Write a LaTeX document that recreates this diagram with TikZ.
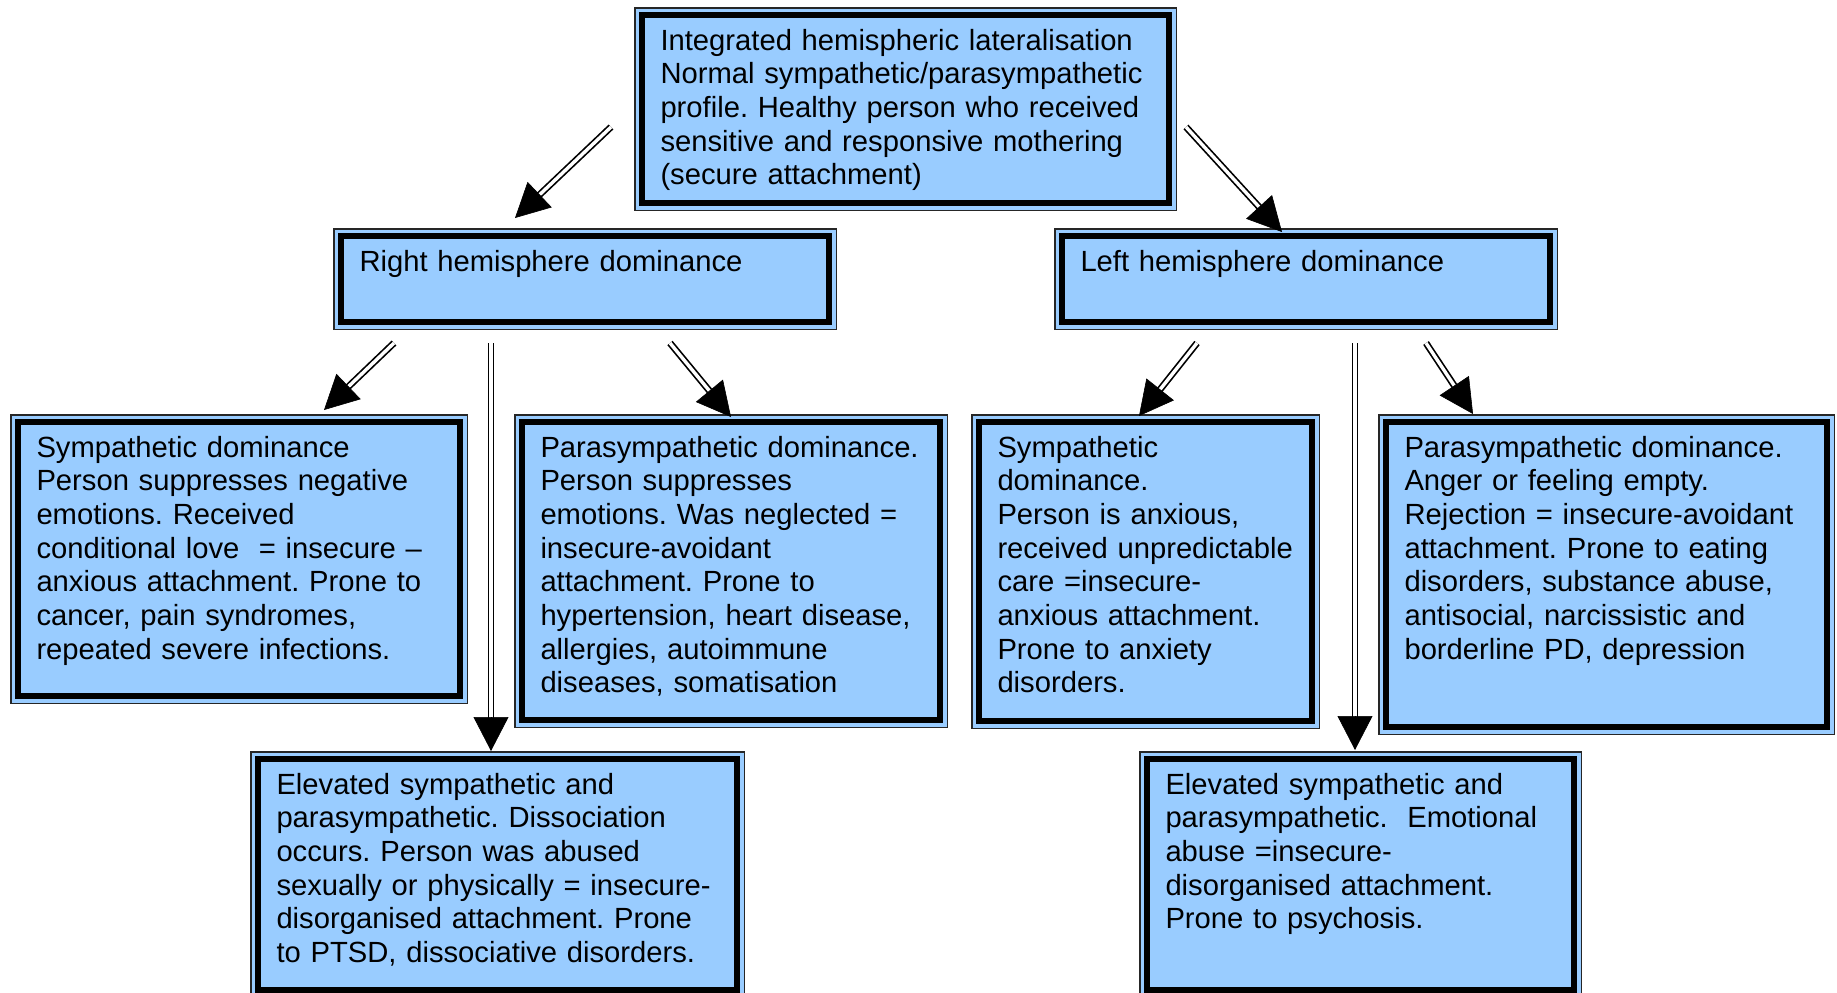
\documentclass[tikz,border=0pt]{standalone}
\usepackage{fontspec}
\setmainfont{Liberation Sans}
\usetikzlibrary{arrows.meta,calc}
\definecolor{boxblue}{RGB}{153,204,255}
\newcommand\darr[2]{%
  \draw[shaft] (#1) -- ($(#2)!30pt!(#1)$);
  \draw[ahead] ($(#2)!34pt!(#1)$) -- (#2);}
\frenchspacing
\begin{document}
\begin{tikzpicture}[x=1pt,y=-1pt,
  box/.style={draw=black, line width=6pt, fill=boxblue, outer sep=0pt,
    inner xsep=18.5pt, inner ysep=11.4pt, text height=23.6pt, align=left,
    anchor=north west, font=\frenchspacing\fontsize{29.2pt}{33.7pt}\selectfont,
    preaction={draw=black!85, line width=16pt},
    preaction={draw=boxblue, line width=13pt}},
  shaft/.style={draw=black, double=white, double distance=3.4pt, line width=1.7pt},
  ahead/.style={draw=black, line width=0.6pt, -{Triangle[length=34pt,width=35pt]}}]
\useasboundingbox (0,0) rectangle (1837,993);
\fill[white] (0,0) rectangle (1837,993);

\node[box, text width=490pt, text depth=141.6pt] (b1) at (642,15)
  {Integrated hemispheric lateralisation\\Normal sympathetic/parasympathetic\\profile. Healthy person who received\\sensitive and responsive mothering\\(secure attachment)};
\node[box, text width=451pt, text depth=39.6pt] (b2) at (341,236)
  {Right hemisphere dominance};
\node[box, text width=451pt, text depth=39.6pt] (b3) at (1062,236)
  {Left hemisphere dominance};
\node[box, text width=405pt, text depth=227.6pt] (b4) at (18,422)
  {Sympathetic dominance\\Person suppresses negative\\emotions. Received\\conditional love~ = insecure --\\anxious attachment. Prone to\\cancer, pain syndromes,\\repeated severe infections.};
\node[box, text width=381pt, text depth=251.6pt] (b5) at (522,422)
  {Parasympathetic dominance.\\Person suppresses\\emotions. Was neglected =\\insecure-avoidant\\attachment. Prone to\\hypertension, heart disease,\\allergies, autoimmune\\diseases, somatisation};
\node[box, text width=296pt, text depth=252.6pt] (b6) at (979,422)
  {Sympathetic\\dominance.\\Person is anxious,\\\mbox{received unpredictable}\\care =insecure-\\anxious attachment.\\Prone to anxiety\\disorders.};
\node[box, text width=404pt, text depth=258.6pt] (b7) at (1386,422)
  {Parasympathetic dominance.\\Anger or feeling empty.\\Rejection = insecure-avoidant\\attachment. Prone to eating\\disorders, substance abuse,\\antisocial, narcissistic and\\borderline PD, depression};
\node[box, text width=442pt, text depth=184.6pt] (b8) at (258,759)
  {Elevated sympathetic and\\parasympathetic. Dissociation\\occurs. Person was abused\\sexually or physically = insecure-\\disorganised attachment. Prone\\to PTSD, dissociative disorders.};
\node[box, text width=390pt, text depth=184.6pt] (b9) at (1147,759)
  {Elevated sympathetic and\\parasympathetic.~ Emotional\\abuse =insecure-\\disorganised attachment.\\Prone to psychosis.};

\coordinate (a1s) at (611,127);  \coordinate (a1e) at (515,218);
\coordinate (a2s) at (1186,127); \coordinate (a2e) at (1282,232);
\coordinate (a3s) at (394,343);  \coordinate (a3e) at (324,410);
\coordinate (a4s) at (491,343);  \coordinate (a4e) at (491,751);
\coordinate (a5s) at (670,343);  \coordinate (a5e) at (731,417);
\coordinate (a6s) at (1197,343); \coordinate (a6e) at (1139,416);
\coordinate (a7s) at (1355,343); \coordinate (a7e) at (1355,750);
\coordinate (a8s) at (1426,343); \coordinate (a8e) at (1473,414);

\darr{a1s}{a1e}
\darr{a2s}{a2e}
\darr{a3s}{a3e}
\darr{a4s}{a4e}
\darr{a5s}{a5e}
\darr{a6s}{a6e}
\darr{a7s}{a7e}
\darr{a8s}{a8e}
\end{tikzpicture}
\end{document}
